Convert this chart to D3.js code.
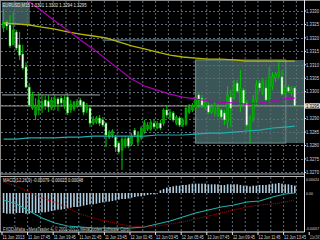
<!DOCTYPE html>
<html>
<head>
<meta charset="utf-8">
<script src="https://cdn.jsdelivr.net/npm/d3@7"></script>
<style>
  html, body { margin: 0; padding: 0; background: #000; overflow: hidden; }
  svg { display: block; }
</style>
</head>
<body>
<div id="chart"></div>
<script>
// EURUSD M15 bars
const barOpen = [1.33237,1.33259,1.33248,1.33174,1.33222,1.33174,1.33140,1.33092,1.33017,1.32939,
  1.32913,1.32932,1.32939,1.32969,1.32965,1.32939,1.32947,1.32973,1.32976,1.32950,
  1.32980,1.32932,1.32936,1.32947,1.32969,1.32962,1.32932,1.32939,1.32883,1.32887,
  1.32902,1.32895,1.32883,1.32831,1.32839,1.32831,1.32809,1.32783,1.32798,1.32828,
  1.32805,1.32857,1.32813,1.32828,1.32850,1.32861,1.32861,1.32883,1.32865,1.32883,
  1.32883,1.32932,1.32906,1.32921,1.32883,1.32902,1.32876,1.32880,1.32924,1.32932,
  1.32939,1.32988,1.32976,1.32943,1.32950,1.32924,1.32924,1.32913,1.32932,1.32921,
  1.32887,1.32980,1.32980,1.33032,1.32950,1.33006,1.32958,1.32857,1.32902,1.32969,
  1.33032,1.33006,1.33014,1.32976,1.33021,1.33051,1.33058,1.33055,1.32995,1.33017,
  1.32995,1.33014]
const barHigh = [1.33308,1.33267,1.33285,1.33296,1.33229,1.33222,1.33174,1.33110,1.33032,1.32999,
  1.32976,1.32995,1.32988,1.32984,1.32988,1.32980,1.32988,1.32980,1.32984,1.32988,
  1.32995,1.32969,1.32965,1.32973,1.32976,1.32965,1.32958,1.32947,1.32909,1.32909,
  1.32913,1.32906,1.32887,1.32857,1.32861,1.32839,1.32816,1.32831,1.32835,1.32835,
  1.32846,1.32865,1.32854,1.32872,1.32895,1.32887,1.32895,1.32895,1.32891,1.32895,
  1.32939,1.32947,1.32936,1.32928,1.32913,1.32909,1.32902,1.32947,1.32954,1.32958,
  1.32995,1.32995,1.32988,1.32976,1.32958,1.32954,1.32962,1.32954,1.32939,1.32932,
  1.33021,1.33006,1.33043,1.33043,1.33081,1.33014,1.32969,1.32913,1.32988,1.33043,
  1.33043,1.33051,1.33043,1.33092,1.33073,1.33073,1.33118,1.33081,1.33029,1.33025,
  1.33021,1.33021]
const barLow = [1.33222,1.33229,1.33162,1.33192,1.33155,1.33118,1.33081,1.33014,1.32943,1.32932,
  1.32895,1.32913,1.32921,1.32932,1.32924,1.32932,1.32932,1.32928,1.32943,1.32936,
  1.32913,1.32921,1.32928,1.32939,1.32943,1.32913,1.32921,1.32869,1.32876,1.32880,
  1.32872,1.32869,1.32794,1.32824,1.32828,1.32776,1.32768,1.32709,1.32790,1.32790,
  1.32798,1.32831,1.32802,1.32820,1.32843,1.32854,1.32854,1.32861,1.32861,1.32857,
  1.32872,1.32902,1.32898,1.32887,1.32876,1.32869,1.32869,1.32872,1.32917,1.32924,
  1.32928,1.32939,1.32939,1.32932,1.32917,1.32917,1.32909,1.32906,1.32898,1.32876,
  1.32865,1.32869,1.32969,1.32995,1.32924,1.32947,1.32857,1.32809,1.32887,1.32950,
  1.32999,1.32988,1.32962,1.32958,1.33006,1.33036,1.33051,1.32984,1.32988,1.32995,
  1.32984,1.32943]
const barClose = [1.33259,1.33244,1.33170,1.33229,1.33162,1.33136,1.33088,1.33017,1.32950,1.32984,
  1.32950,1.32969,1.32962,1.32947,1.32943,1.32969,1.32973,1.32954,1.32958,1.32969,
  1.32921,1.32954,1.32962,1.32965,1.32950,1.32924,1.32950,1.32883,1.32898,1.32902,
  1.32883,1.32876,1.32839,1.32850,1.32854,1.32794,1.32776,1.32824,1.32824,1.32798,
  1.32835,1.32839,1.32843,1.32865,1.32883,1.32876,1.32887,1.32869,1.32883,1.32865,
  1.32932,1.32913,1.32924,1.32895,1.32906,1.32876,1.32895,1.32939,1.32943,1.32950,
  1.32980,1.32969,1.32950,1.32965,1.32924,1.32943,1.32950,1.32939,1.32906,1.32895,
  1.32988,1.32939,1.33025,1.33002,1.33014,1.32954,1.32876,1.32902,1.32969,1.33025,
  1.33014,1.33036,1.32969,1.33055,1.33058,1.33066,1.33073,1.32991,1.33017,1.33002,
  1.33010,1.32947]

// moving averages, sampled every 4 bars
const maBars = [0,4,8,12,16,20,24,28,32,36,40,44,48,52,56,60,64,68,72,76,80,84,88,91]
const maSlow = [1.33255,1.33252,1.33248,1.33240,1.33233,1.33222,1.33214,1.33207,1.33200,1.33185,
  1.33170,1.33159,1.33147,1.33136,1.33129,1.33125,1.33121,1.33121,1.33118,1.33114,
  1.33114,1.33114,1.33114,1.33114]
const maFastBars = [8,12,16,20,24,28,32,36,40,44,48,52,56,60,64,68,72,76,80,84,88,91]
const maFast = [1.33334,1.33300,1.33263,1.33229,1.33192,1.33159,1.33121,1.33084,1.33047,1.33021,
  1.33006,1.32991,1.32980,1.32973,1.32965,1.32961,1.32958,1.32954,1.32958,1.32965,
  1.32973,1.32976]
const maLong = [1.32824,1.32824,1.32828,1.32828,1.32828,1.32831,1.32831,1.32835,1.32835,1.32835,
  1.32835,1.32835,1.32839,1.32839,1.32839,1.32842,1.32846,1.32846,1.32850,1.32854,
  1.32857,1.32865,1.32868,1.32872]

// chart objects
const levelPrice = [1.32988, 1.33192]
const levelFrom = [-0.5, 31]
const levelTo = [30.1, 90.4]
const boxFrom = [-0.5, 60]
const boxTo = [8.2, 93.9]
const boxHigh = [1.33334, 1.33118]
const boxLow = [1.33248, 1.32809]
const frameFrom = 60, frameTo = 88.2

// MACD sub-window
const macdHist = [-0.00030,-0.00031,-0.00031,-0.00031,-0.00030,-0.00030,-0.00030,-0.00031,-0.00031,-0.00030,
  -0.00030,-0.00030,-0.00029,-0.00029,-0.00028,-0.00027,-0.00026,-0.00025,-0.00025,-0.00024,
  -0.00023,-0.00022,-0.00021,-0.00021,-0.00020,-0.00019,-0.00018,-0.00017,-0.00017,-0.00016,
  -0.00015,-0.00014,-0.00013,-0.00013,-0.00012,-0.00011,-0.00010,-0.00009,-0.00009,-0.00008,
  -0.00007,-0.00006,-0.00005,-0.00005,-0.00004,-0.00003,-0.00002,-0.00002,-0.00001,0.00004,
  0.00006,0.00008,0.00009,0.00010,0.00011,0.00011,0.00012,0.00012,0.00013,0.00014,
  0.00014,0.00014,0.00014,0.00014,0.00013,0.00013,0.00013,0.00013,0.00012,0.00012,
  0.00013,0.00013,0.00013,0.00013,0.00012,0.00011,0.00011,0.00010,0.00011,0.00011,
  0.00012,0.00012,0.00012,0.00013,0.00014,0.00014,0.00015,0.00014,0.00013,0.00013,
  0.00012,0.00011]
const macdMain = [-0.000105,-0.000165,-0.00027,-0.000375,-0.00045,-0.000495,-0.00051,-0.000525,-0.000525,-0.000525,
  -0.000525,-0.00051,-0.000465,-0.00042,-0.00036,-0.0003,-0.000255,-0.00021,-0.00018,-0.000135,
  -0.00012,-0.00006,-0.000015,0]
const macdSignal = [0.000165,0.000105,0.000015,-0.000075,-0.000135,-0.000225,-0.000315,-0.000375,-0.00042,-0.000465,
  -0.0005,-0.00051,-0.000495,-0.000465,-0.000435,-0.00039,-0.000345,-0.0003,-0.000255,-0.00021,
  -0.00018,-0.000165,-0.000135,-0.000105]

const priceTicks = ["1.3330","1.3325","1.3320","1.3315","1.3310","1.3305","1.3300","1.3295",
  "1.3290","1.3285","1.3280","1.3275","1.3270"]
const macdTicks = [["0.00024", 0.00024], ["0.00", 0], ["-0.00057", -0.00057]]
const timeLabels = ["11 Jun 2013","11 Jun 17:45","11 Jun 19:45","11 Jun 21:45","11 Jun 23:45",
  "12 Jun 01:45","12 Jun 03:45","12 Jun 05:45","12 Jun 07:45","12 Jun 09:45","12 Jun 11:45",
  "12 Jun 13:45","12 Jun 15:45"]

const headerText = "EURUSD,M15  1.3301 1.3302 1.3294 1.3295"
const macdText = "MACD(12,26,9) -0.00079 -0.00023 0.00048"
const footerText = "FXDD Malta - MetaTrader 4, \u00a9 2001-2012, MetaQuotes Software Corp."

const width = 320, height = 240
const plotRight = 304.5
const mainTop = 1, mainBottom = 173.5
const subTop = 177, subBottom = 232
const font = "Liberation Sans, Arial, sans-serif"

const x = d3.scaleLinear().domain([0, 91]).range([3.6, 294.8])
const y = d3.scaleLinear().domain([1.3270, 1.3330]).range([172.4, 11])
const ym = d3.scaleLinear().domain([-0.00057, 0.00024]).range([231, 177])

const svg = d3.select("#chart").append("svg")
  .attr("width", width).attr("height", height)
  .style("background", "#000")

const defs = svg.append("defs")
defs.append("clipPath").attr("id", "clipMain").append("rect")
  .attr("x", 1).attr("y", mainTop).attr("width", plotRight - 1).attr("height", mainBottom - mainTop)
defs.append("clipPath").attr("id", "clipSub").append("rect")
  .attr("x", 1).attr("y", subTop).attr("width", plotRight - 1).attr("height", subBottom - subTop)

const main = svg.append("g").attr("clip-path", "url(#clipMain)")
const sub = svg.append("g").attr("clip-path", "url(#clipSub)")

// rectangles (drawn behind everything)
main.selectAll("rect.box").data(boxFrom).join("rect")
  .attr("class", "box")
  .attr("x", (d, i) => x(d)).attr("width", (d, i) => x(boxTo[i]) - x(d))
  .attr("y", (d, i) => y(boxHigh[i])).attr("height", (d, i) => y(boxLow[i]) - y(boxHigh[i]))
  .attr("fill", "#3a5656")
main.append("rect")
  .attr("x", x(frameFrom)).attr("width", x(frameTo) - x(frameFrom))
  .attr("y", y(boxHigh[1])).attr("height", y(boxLow[1]) - y(boxHigh[1]))
  .attr("fill", "none").attr("stroke", "#6f8c8c").attr("stroke-width", 1)

// grid
const gridBars = d3.range(3.5, 92, 4)
const gridColor = "#5d6b78"
main.selectAll("line.vg").data(gridBars).join("line")
  .attr("x1", d => x(d)).attr("x2", d => x(d)).attr("y1", mainTop).attr("y2", mainBottom)
  .attr("stroke", gridColor).attr("stroke-dasharray", "2,2")
sub.selectAll("line.vg").data(gridBars).join("line")
  .attr("x1", d => x(d)).attr("x2", d => x(d)).attr("y1", subTop).attr("y2", subBottom)
  .attr("stroke", gridColor).attr("stroke-dasharray", "2,2")
main.selectAll("line.hg").data(priceTicks).join("line")
  .attr("x1", 1).attr("x2", plotRight)
  .attr("y1", d => Math.round(y(+d)) + 0.5).attr("y2", d => Math.round(y(+d)) + 0.5)
  .attr("stroke", gridColor).attr("stroke-dasharray", "2,2")

// horizontal level lines
const levelColors = ["#a8a8a8", "#78aab4"]
main.selectAll("line.level").data(levelPrice).join("line")
  .attr("x1", (d, i) => x(levelFrom[i])).attr("x2", (d, i) => x(levelTo[i]))
  .attr("y1", d => y(d)).attr("y2", d => y(d))
  .attr("stroke", (d, i) => levelColors[i]).attr("stroke-width", 1)

// bid line
const bid = barClose[barClose.length - 1]
main.append("line").attr("x1", 1).attr("x2", plotRight)
  .attr("y1", y(bid)).attr("y2", y(bid)).attr("stroke", "#9a9a9a")

// candles
const bars = barOpen.map((o, i) => ({ i, o, h: barHigh[i], l: barLow[i], c: barClose[i] }))
main.selectAll("line.wick").data(bars).join("line")
  .attr("x1", d => x(d.i)).attr("x2", d => x(d.i))
  .attr("y1", d => y(d.h)).attr("y2", d => y(d.l))
  .attr("stroke", "#00c800").attr("stroke-width", 1)
main.selectAll("rect.body").data(bars).join("rect")
  .attr("x", d => x(d.i) - 1).attr("width", 2)
  .attr("y", d => y(Math.max(d.o, d.c)))
  .attr("height", d => Math.max(1, Math.abs(y(d.o) - y(d.c))))
  .attr("fill", d => d.c >= d.o ? "#009a00" : "#ffffff")
  .attr("stroke", "#00c800").attr("stroke-width", 0.5)

// moving averages
const maLine = (idx, vals) => d3.line().x((d, i) => x(idx[i])).y(d => y(d))(vals)
main.append("path").attr("d", maLine(maBars, maSlow))
  .attr("fill", "none").attr("stroke", "#b8b800").attr("stroke-width", 1.3)
main.append("path").attr("d", maLine(maFastBars, maFast))
  .attr("fill", "none").attr("stroke", "#b000b8").attr("stroke-width", 1.2)
main.append("path").attr("d", maLine(maBars, maLong))
  .attr("fill", "none").attr("stroke", "#1fb0b0").attr("stroke-width", 1.2)

// MACD histogram and lines
sub.selectAll("rect.hist").data(macdHist).join("rect")
  .attr("x", (d, i) => x(i) - 0.8).attr("width", 1.6)
  .attr("y", d => Math.min(ym(d), ym(0)))
  .attr("height", d => Math.abs(ym(d) - ym(0)))
  .attr("fill", "#aecde0")
sub.append("path")
  .attr("d", d3.line().x((d, i) => x(maBars[i])).y(d => ym(d))(macdMain))
  .attr("fill", "none").attr("stroke", "#20b0a8").attr("stroke-width", 1.2)
sub.append("path")
  .attr("d", d3.line().x((d, i) => x(maBars[i])).y(d => ym(d))(macdSignal))
  .attr("fill", "none").attr("stroke", "#c00000").attr("stroke-width", 1).attr("stroke-dasharray", "1,1")

// frames and separators
svg.append("line").attr("x1", 0).attr("x2", width).attr("y1", 0.5).attr("y2", 0.5).attr("stroke", "#8c8c8c")
svg.append("line").attr("x1", 0.5).attr("x2", 0.5).attr("y1", 0).attr("y2", subBottom).attr("stroke", "#8c8c8c")
svg.append("line").attr("x1", 0).attr("x2", plotRight).attr("y1", 174).attr("y2", 174).attr("stroke", "#b4b4b4")
svg.append("line").attr("x1", 0).attr("x2", plotRight).attr("y1", 176.5).attr("y2", 176.5).attr("stroke", "#b4b4b4")
svg.append("line").attr("x1", plotRight).attr("x2", plotRight).attr("y1", 0).attr("y2", subBottom).attr("stroke", "#e8e8e8")
svg.append("line").attr("x1", 0).attr("x2", plotRight).attr("y1", subBottom).attr("y2", subBottom).attr("stroke", "#e8e8e8")

// price axis
const axisText = "#d8d8d8"
svg.selectAll("text.price").data(priceTicks).join("text")
  .attr("x", 306).attr("y", d => y(+d) + 1.7)
  .attr("font-family", font).attr("font-size", 4.5).attr("fill", axisText)
  .attr("textLength", 13).attr("lengthAdjust", "spacingAndGlyphs")
  .text(d => d)
svg.selectAll("line.ptick").data(priceTicks).join("line")
  .attr("x1", plotRight).attr("x2", plotRight + 1.5)
  .attr("y1", d => y(+d)).attr("y2", d => y(+d)).attr("stroke", "#e8e8e8")

// current price marker
svg.append("rect").attr("x", 305).attr("y", y(bid) - 2.6).attr("width", 15).attr("height", 5.2)
  .attr("fill", "#d8d8d8")
svg.append("text").attr("x", 306).attr("y", y(bid) + 1.7)
  .attr("font-family", font).attr("font-size", 4.5).attr("fill", "#000")
  .attr("textLength", 13).attr("lengthAdjust", "spacingAndGlyphs")
  .text(d3.format(".4f")(bid))

// MACD axis (right-aligned so the long values stay inside the window)
svg.selectAll("text.macd").data(macdTicks).join("text")
  .attr("x", d => d[0].length > 4 ? 319 : 313)
  .attr("y", d => Math.min(Math.max(ym(d[1]) + 1.7, 181), 229.5))
  .attr("text-anchor", "end")
  .attr("font-family", font).attr("font-size", 4.2).attr("fill", axisText)
  .attr("textLength", d => d[0].length > 4 ? 13 : 7).attr("lengthAdjust", "spacingAndGlyphs")
  .text(d => d[0])

// time axis; the last label is squeezed into the space left at the edge
const timeX = i => x(i * 8 - 0.5)
const lastTime = timeLabels.length - 1
svg.selectAll("text.time").data(timeLabels).join("text")
  .attr("x", (d, i) => i === lastTime ? 319.5 : timeX(i) + 0.5).attr("y", 238.5)
  .attr("text-anchor", (d, i) => i === lastTime ? "end" : "start")
  .attr("font-family", font).attr("font-size", 4.6).attr("fill", axisText)
  .attr("textLength", (d, i) => i === lastTime ? 319 - timeX(i) : 22).attr("lengthAdjust", "spacingAndGlyphs")
  .text(d => d)
svg.selectAll("line.ttick").data(timeLabels).join("line")
  .attr("x1", (d, i) => timeX(i)).attr("x2", (d, i) => timeX(i))
  .attr("y1", subBottom).attr("y2", subBottom + 3).attr("stroke", "#e8e8e8")

// captions
svg.append("text").attr("x", 2.5).attr("y", 6.5)
  .attr("font-family", font).attr("font-size", 5).attr("fill", "#e0e0e0")
  .attr("textLength", 84).attr("lengthAdjust", "spacingAndGlyphs").text(headerText)
svg.append("text").attr("x", 3).attr("y", 182)
  .attr("font-family", font).attr("font-size", 4.8).attr("fill", "#e0e0e0")
  .attr("textLength", 80).attr("lengthAdjust", "spacingAndGlyphs").text(macdText)
svg.append("text").attr("x", 3).attr("y", 230.5)
  .attr("font-family", font).attr("font-size", 4.8).attr("fill", "#c8c8c8")
  .attr("textLength", 127).attr("lengthAdjust", "spacingAndGlyphs").text(footerText)
</script>
</body>
</html>
